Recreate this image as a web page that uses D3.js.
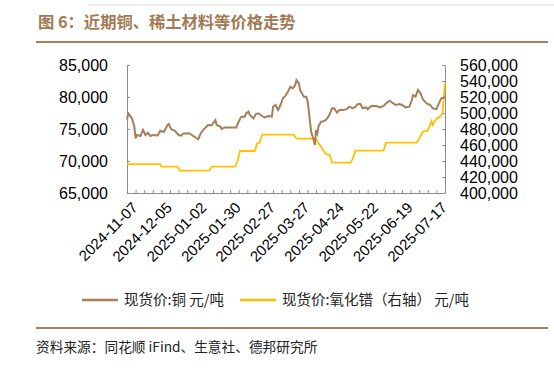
<!DOCTYPE html>
<html><head><meta charset="utf-8">
<script src="https://cdn.jsdelivr.net/npm/d3@7/dist/d3.min.js"></script>
<style>
body{margin:0;background:#fff;}
svg{display:block;}
</style></head>
<body><svg id="c" width="554" height="370"></svg>
<script>
const copperDates = ["2024-11-07","2024-11-08","2024-11-11","2024-11-13","2024-11-14","2024-11-15","2024-11-18","2024-11-20","2024-11-22","2024-11-24","2024-11-26","2024-11-28","2024-12-02","2024-12-04","2024-12-07","2024-12-10","2024-12-11","2024-12-13","2024-12-16","2024-12-19","2024-12-21","2024-12-23","2024-12-28","2024-12-31","2025-01-04","2025-01-06","2025-01-08","2025-01-12","2025-01-15","2025-01-18","2025-01-19","2025-01-22","2025-01-23","2025-01-26","2025-02-04","2025-02-06","2025-02-08","2025-02-11","2025-02-12","2025-02-14","2025-02-15","2025-02-18","2025-02-20","2025-02-22","2025-02-25","2025-02-27","2025-03-02","2025-03-05","2025-03-06","2025-03-08","2025-03-10","2025-03-12","2025-03-14","2025-03-16","2025-03-18","2025-03-20","2025-03-22","2025-03-24","2025-03-25","2025-03-27","2025-03-28","2025-03-31","2025-04-02","2025-04-03","2025-04-04","2025-04-05","2025-04-06","2025-04-08","2025-04-09","2025-04-10","2025-04-11","2025-04-12","2025-04-14","2025-04-15","2025-04-18","2025-04-20","2025-04-22","2025-04-23","2025-04-25","2025-04-27","2025-04-29","2025-05-02","2025-05-05","2025-05-07","2025-05-10","2025-05-12","2025-05-14","2025-05-16","2025-05-18","2025-05-21","2025-05-22","2025-05-25","2025-05-29","2025-06-01","2025-06-04","2025-06-06","2025-06-09","2025-06-11","2025-06-14","2025-06-17","2025-06-19","2025-06-22","2025-06-25","2025-06-27","2025-06-28","2025-06-30","2025-07-02","2025-07-04","2025-07-06","2025-07-09","2025-07-12","2025-07-14","2025-07-17","2025-07-19","2025-07-21","2025-07-24"];
const copperValues = [76500,77450,76670,75360,73550,74060,73900,74840,74060,74420,73900,74060,74000,74730,74530,75630,75780,74950,74730,74060,73950,74290,74290,73900,73390,74290,74840,75630,75580,76400,75630,75370,75000,75250,75250,76150,76930,76930,77450,77710,77190,76670,77340,77450,77030,76820,77030,76930,78490,78750,77970,78750,79800,80160,80830,81610,81350,81880,82660,82140,81100,80050,80050,79420,77970,76150,74580,73280,72500,74840,74320,75470,76150,76150,76400,76930,77710,78230,78200,77550,77970,77970,78100,78490,78230,78490,78910,78910,78230,78380,78100,78600,78600,78380,78600,79010,79420,79110,78750,78910,78750,78380,78490,79530,80310,80050,81100,80580,79640,79010,78750,78230,78100,79010,79800,79950];

const oxideDates = ["2024-11-07","2024-12-04","2024-12-05","2024-12-18","2024-12-20","2025-01-13","2025-01-15","2025-02-03","2025-02-05","2025-02-07","2025-02-19","2025-02-21","2025-02-23","2025-02-25","2025-03-23","2025-03-25","2025-04-10","2025-04-12","2025-04-14","2025-04-16","2025-04-18","2025-04-21","2025-04-23","2025-05-08","2025-05-10","2025-05-12","2025-06-04","2025-06-06","2025-07-01","2025-07-03","2025-07-06","2025-07-10","2025-07-13","2025-07-14","2025-07-17","2025-07-20","2025-07-21","2025-07-22","2025-07-24"];
const oxideValues = [436000,436000,433000,433000,428000,428000,433000,433000,440000,452500,452500,462000,463000,473000,473000,468000,468000,462000,458000,453000,449000,447500,438000,438000,443000,453000,453000,463000,463000,468000,477000,478000,490000,485000,493000,495500,497500,500000,538000];

const leftTicks = [65000,70000,75000,80000,85000];
const rightTicks = [400000,420000,440000,460000,480000,500000,520000,540000,560000];
const xLabels = ["2024-11-07","2024-12-05","2025-01-02","2025-01-30","2025-02-27","2025-03-27","2025-04-24","2025-05-22","2025-06-19","2025-07-17"];
const xStart = "2024-11-07", xEnd = "2025-07-24";
const titleText = "图 6：近期铜、稀土材料等价格走势";
const legendNames = ["现货价:铜 元/吨","现货价:氧化镨（右轴） 元/吨"];
const sourceText = "资料来源：同花顺 iFind、生意社、德邦研究所";

const BROWN = "#a57f59", YELLOW = "#ffc000", AXIS = "#8c8c8c";
const parse = d3.timeParse("%Y-%m-%d");
const svg = d3.select("#c");
const L = 127, R = 445, T = 65, B = 193;

const x = d3.scaleTime().domain([parse(xStart), parse(xEnd)]).range([L, R]);
const yL = d3.scaleLinear().domain([65000,85000]).range([B, T]);
const yR = d3.scaleLinear().domain([400000,560000]).range([B, T]);
const fmt = d3.format(",");

// top faint line
svg.append("line").attr("x1",87).attr("x2",554).attr("y1",5).attr("y2",5).attr("stroke","#ece6e0").attr("stroke-width",1.5);
// title
svg.append("text").attr("x",38).attr("y",28).text(titleText)
  .attr("font-family","'Noto Sans CJK SC'").attr("font-weight","bold").attr("font-size",16.3).attr("fill","#a27a55");
svg.append("line").attr("x1",36).attr("x2",548).attr("y1",42).attr("y2",42).attr("stroke",BROWN).attr("stroke-width",2);

// axes
const axL = d3.axisLeft(yL).tickValues(leftTicks).tickFormat(fmt).tickSizeInner(-3).tickSizeOuter(0).tickPadding(19);
const gL = svg.append("g").attr("transform",`translate(${L},0)`).call(axL);
const axR = d3.axisRight(yR).tickValues(rightTicks).tickFormat(fmt).tickSizeInner(-3).tickSizeOuter(0).tickPadding(15);
const gR = svg.append("g").attr("transform",`translate(${R},0)`).call(axR);
const weekly = d3.timeDay.range(parse(xStart), d3.timeDay.offset(parse(xEnd),1), 7);
const axB = d3.axisBottom(x).tickValues(weekly).tickFormat("").tickSizeInner(-3).tickSizeOuter(0);
const gB = svg.append("g").attr("transform",`translate(0,${B})`).call(axB);
[gL,gR,gB].forEach(g=>{
  g.selectAll("path,line").attr("stroke",AXIS);
  g.selectAll("text").attr("font-family","'Liberation Sans', Arial").attr("font-size",16).attr("fill","#000");
});

// x labels
svg.append("g").selectAll("text").data(xLabels).join("text")
  .attr("transform",d=>`translate(${x(parse(d))+4},${B+8}) rotate(-45)`)
  .attr("text-anchor","end").attr("dy","0.71em")
  .attr("font-family","'Liberation Sans', Arial").attr("font-size",15).attr("fill","#000")
  .text(d=>d);

// lines
const copper = copperDates.map((d,i)=>({d:parse(d),v:copperValues[i]}));
const oxide = oxideDates.map((d,i)=>({d:parse(d),v:oxideValues[i]}));
svg.append("path").datum(oxide).attr("fill","none").attr("stroke",YELLOW).attr("stroke-width",1.8)
  .attr("d",d3.line().x(p=>x(p.d)).y(p=>yR(p.v)));
svg.append("path").datum(copper).attr("fill","none").attr("stroke",BROWN).attr("stroke-width",2)
  .attr("d",d3.line().x(p=>x(p.d)).y(p=>yL(p.v)));

// legend
const lg = svg.append("g");
const legendX = [[82,118,124],[240,276,282]];
const legendColors = [BROWN, YELLOW];
legendNames.forEach((n,i)=>{
  lg.append("line").attr("x1",legendX[i][0]).attr("x2",legendX[i][1]).attr("y1",300).attr("y2",300)
    .attr("stroke",legendColors[i]).attr("stroke-width",2.5);
  lg.append("text").attr("x",legendX[i][2]).attr("y",305).text(n)
    .attr("font-family","'Noto Sans CJK SC'").attr("font-size",14.5).attr("fill","#222");
});

svg.append("line").attr("x1",36).attr("x2",548).attr("y1",328).attr("y2",328).attr("stroke",BROWN).attr("stroke-width",2);
svg.append("text").attr("x",36).attr("y",352).text(sourceText)
  .attr("font-family","'Noto Sans CJK SC'").attr("font-size",13.7).attr("fill","#222");
</script></body></html>
